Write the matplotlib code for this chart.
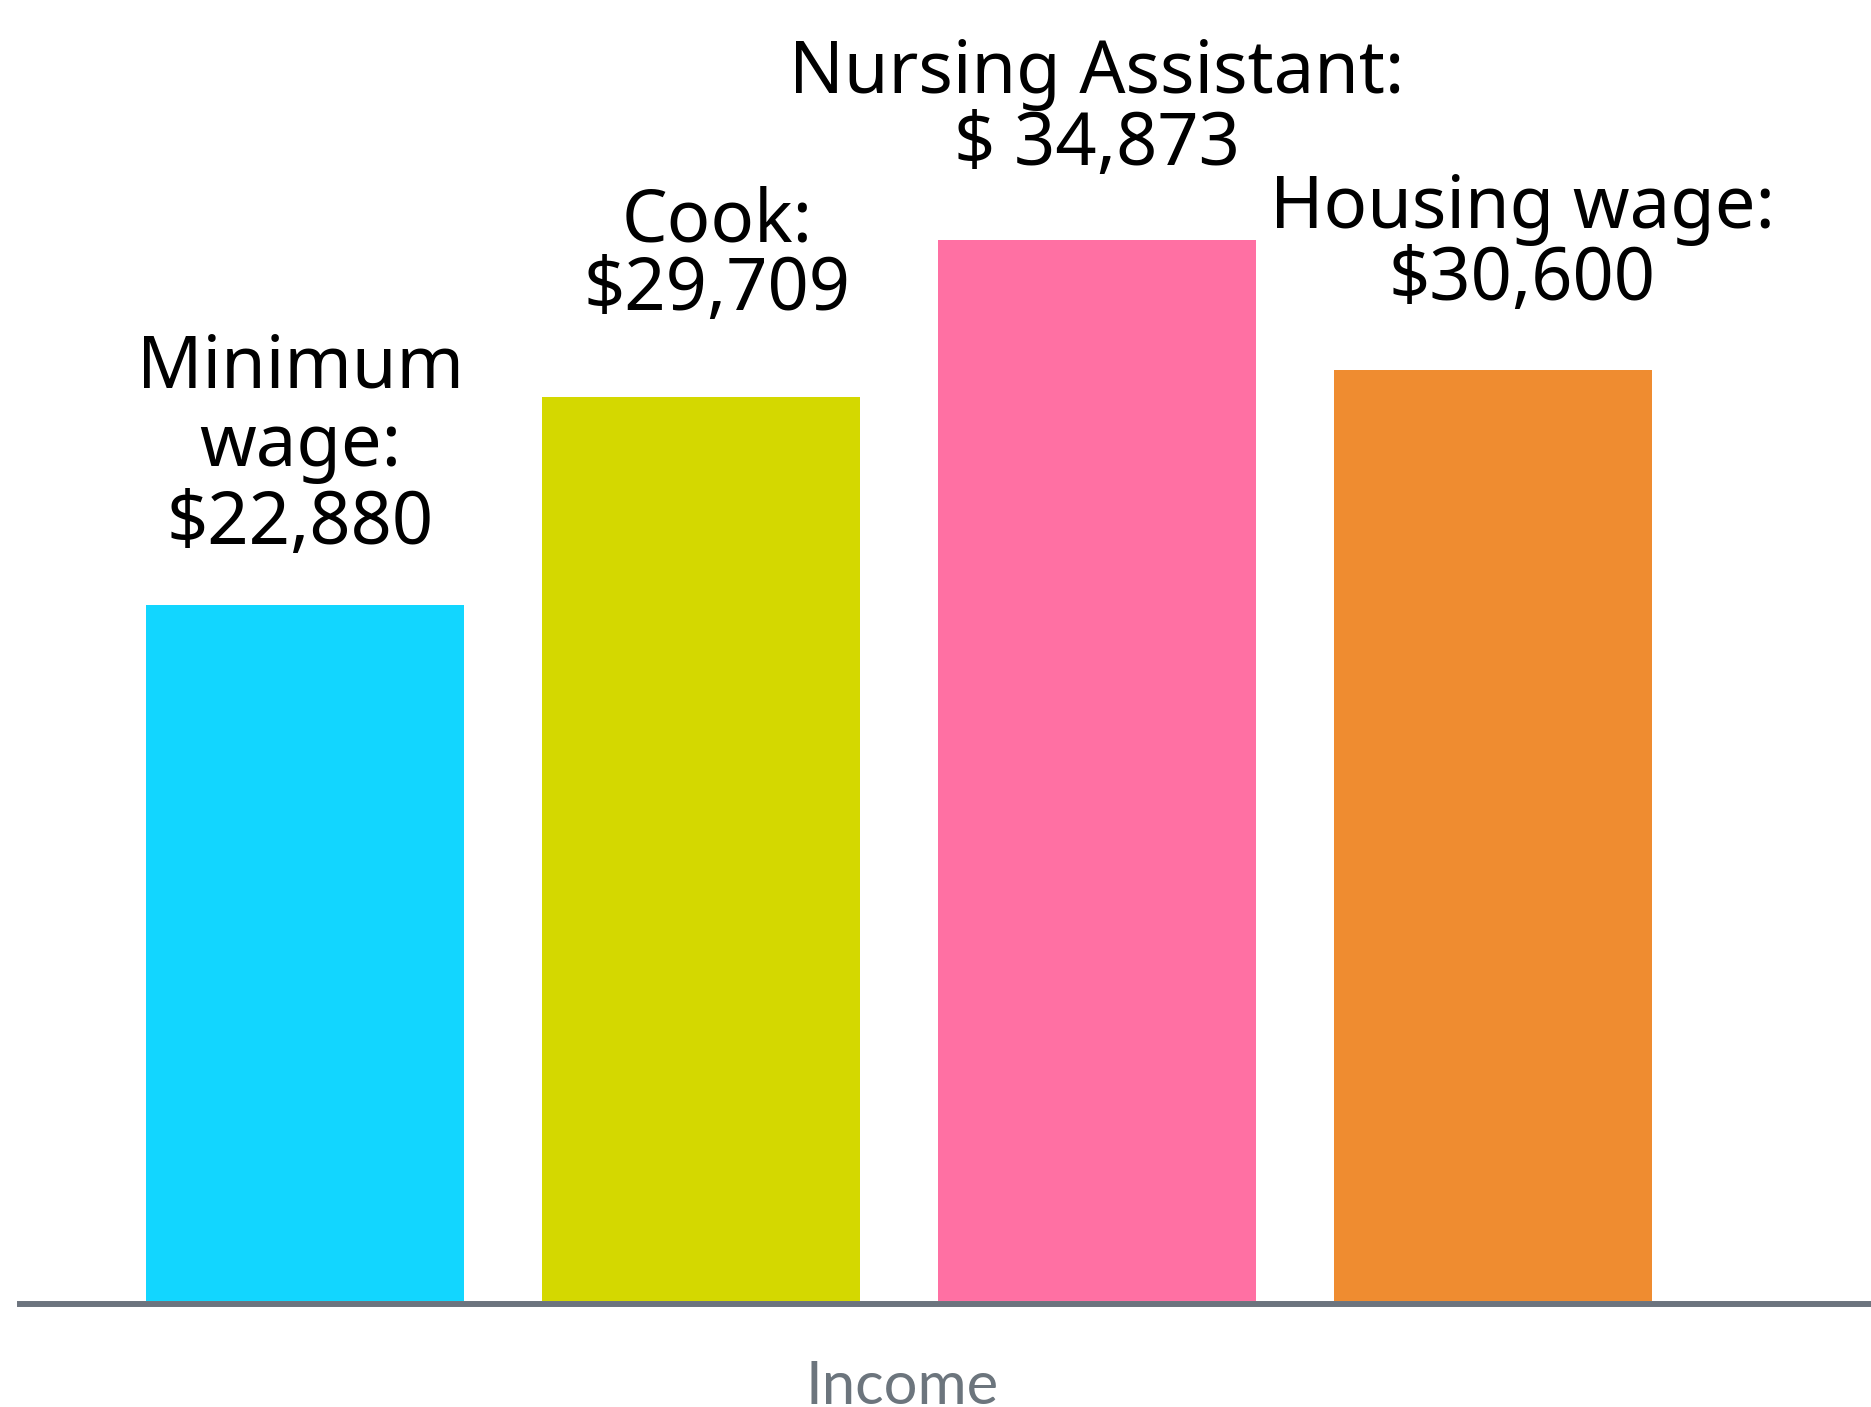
import matplotlib.pyplot as plt

categories = ['Minimum wage', 'Cook', 'Nursing Assistant', 'Housing wage']
incomes = [22880, 29709, 34873, 30600]
label_lines = [['Minimum', 'wage:', '$22,880'],
               ['Cook:', '$29,709'],
               ['Nursing Assistant:', '$ 34,873'],
               ['Housing wage:', '$30,600']]
bar_colors = ['#12d6ff', '#d4d800', '#ff70a3', '#ef8c30']
axis_title = 'Income'

W, H = 1871, 1407
fig = plt.figure(figsize=(W / 100, H / 100), dpi=100)
base = 1301  # pixel row of the bar base, from top
ax = fig.add_axes([20 / W, (H - base) / H, 1 - 20 / W, base / H])
xs = list(range(len(categories)))
ax.bar(xs, incomes, width=0.803, color=bar_colors, zorder=2)
ax.set_xlim(-0.7197, 3.9545)
ax.set_ylim(0, base * 32.87)

for s in ['top', 'right', 'left']:
    ax.spines[s].set_visible(False)
ax.spines['bottom'].set_color('#6c747e')
ax.spines['bottom'].set_linewidth(4.3)
ax.spines['bottom'].set_position(('outward', 2.2))
ax.spines['bottom'].set_zorder(3)
ax.set_xticks([])
ax.set_yticks([])

# label placement in pixels: x offset from bar center, first baseline (from top), line step
label_dx = [-5, 16, 0, 29]
label_base = [388, 242, 93, 228]
label_step = [78, 68, 72, 72]
for i, lines in enumerate(label_lines):
    bar_top_px = base - incomes[i] / 32.87
    for k, line in enumerate(lines):
        y_px = label_base[i] + k * label_step[i]
        ax.annotate(line, xy=(xs[i], incomes[i]), xycoords='data',
                    xytext=(label_dx[i] * 0.72, (bar_top_px - y_px) * 0.72),
                    textcoords='offset points',
                    ha='center', va='baseline', fontsize=52, fontweight='light',
                    family=['Noto Sans', 'DejaVu Sans'], color='black',
                    annotation_clip=False)

fig.text(902 / W, (H - 1404) / H, axis_title, ha='center', va='baseline',
         fontsize=43, family=['Lato', 'DejaVu Sans'], color='#6c757d')

fig.savefig('out.png', dpi=100)
